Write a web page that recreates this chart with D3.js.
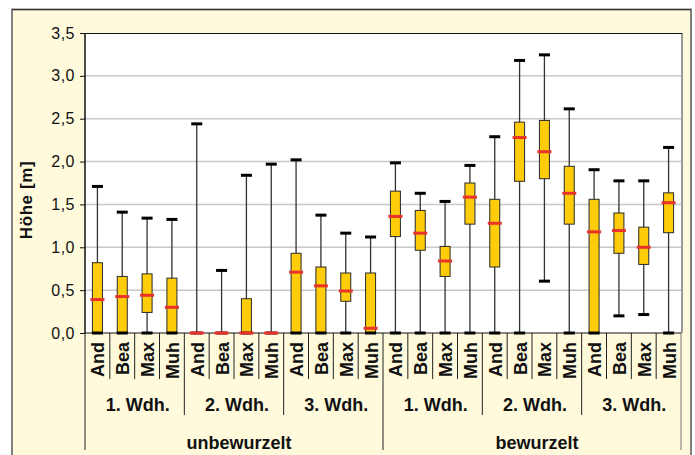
<!DOCTYPE html>
<html>
<head>
<meta charset="utf-8">
<script src="https://cdn.jsdelivr.net/npm/d3@7"></script>
<style>
body { margin:0; background:#fff; }
svg { display:block; font-family:Arial, "Liberation Sans", sans-serif; }
</style>
</head>
<body>
<svg id="chart"></svg>
<script>
// categories
var groups = ["unbewurzelt", "bewurzelt"]
var reps = ["1. Wdh.", "2. Wdh.", "3. Wdh."]
var varieties = ["And", "Bea", "Max", "Muh"]

// box plot values, one per variety / rep / group (in that nesting)
var maxima  = [1.71, 1.41, 1.34, 1.325,  2.44, 0.73, 1.84, 1.97,  2.02, 1.375, 1.165, 1.12,
               1.985, 1.63, 1.535, 1.955,  2.29, 3.18, 3.245, 2.615,  1.905, 1.775, 1.775, 2.165]
var q3      = [0.82, 0.66, 0.69, 0.64,  0, 0, 0.40, 0,  0.93, 0.77, 0.70, 0.70,
               1.655, 1.43, 1.01, 1.75,  1.56, 2.46, 2.48, 1.945,  1.56, 1.40, 1.235, 1.635]
var medians = [0.39, 0.425, 0.44, 0.30,  0, 0, 0, 0,  0.71, 0.55, 0.49, 0.055,
               1.36, 1.165, 0.84, 1.585,  1.28, 2.28, 2.115, 1.63,  1.18, 1.195, 1.00, 1.52]
var q1      = [0, 0, 0.24, 0,  0, 0, 0, 0,  0, 0, 0.37, 0,
               1.125, 0.965, 0.66, 1.27,  0.77, 1.77, 1.80, 1.27,  0, 0.93, 0.80, 1.17]
var minima  = [0, 0, 0, 0,  0, 0, 0, 0,  0, 0, 0, 0,
               0, 0, 0, 0,  0, 0, 0.605, 0,  0, 0.20, 0.215, 0]

var yTicks = [0, 0.5, 1, 1.5, 2, 2.5, 3, 3.5]

var screen = {width:695, height:455}
var plot = {left:85, right:681, top:33, bottom:333}

var svg = d3.select("#chart")
    .attr("width", screen.width)
    .attr("height", screen.height)

// chart area
svg.append("rect")
    .attr("x", 12).attr("y", 9.5)
    .attr("width", 679).attr("height", 470)
    .attr("fill", "#fffadc")
    .attr("stroke", "#808080")
    .attr("stroke-width", 2)
svg.append("line")
    .attr("x1", 12).attr("x2", 691).attr("y1", 9.5).attr("y2", 9.5)
    .attr("stroke", "#333").attr("stroke-width", 1)

// plot area
svg.append("rect")
    .attr("x", plot.left).attr("y", plot.top)
    .attr("width", plot.right - plot.left).attr("height", plot.bottom - plot.top)
    .attr("fill", "#fff")
svg.append("line")
    .attr("x1", plot.right + 1).attr("x2", plot.right + 1)
    .attr("y1", plot.top).attr("y2", plot.bottom)
    .attr("stroke", "#999").attr("stroke-width", 2)

var cats = d3.range(groups.length * reps.length * varieties.length)

var xScale = d3.scaleBand()
    .domain(cats)
    .range([plot.left, plot.right])

var yScale = d3.scaleLinear()
    .domain([0, 3.5])
    .range([plot.bottom, plot.top])

// gridlines
svg.append("g")
    .selectAll("line")
    .data(yTicks.slice(1, -1))
    .enter()
    .append("line")
    .attr("x1", plot.left).attr("x2", plot.right)
    .attr("y1", function(d) { return yScale(d) })
    .attr("y2", function(d) { return yScale(d) })
    .attr("stroke", "#c8c8c8")
    .attr("stroke-width", 1.5)

svg.append("line")
    .attr("x1", plot.left).attr("x2", plot.right + 1)
    .attr("y1", plot.top + 0.5).attr("y2", plot.top + 0.5)
    .attr("stroke", "#111")

// y axis
var yAxis = d3.axisLeft(yScale)
    .tickValues(yTicks)
    .tickSize(5)
    .tickPadding(5)
    .tickFormat(function(d) { return d.toFixed(1).replace(".", ",") })

var yg = svg.append("g")
    .attr("transform", "translate(" + plot.left + ",0)")
    .call(yAxis)
yg.select(".domain").remove()
yg.selectAll("line").attr("stroke", "#111")
yg.selectAll("text")
    .attr("fill", "#111")
    .style("font-size", "16px")
    .style("font-family", "Arial, 'Liberation Sans', sans-serif")
    .style("letter-spacing", "0.5px")

svg.append("text")
    .attr("transform", "translate(32,200) rotate(-90)")
    .attr("text-anchor", "middle")
    .attr("font-size", 17)
    .attr("font-weight", "bold")
    .attr("letter-spacing", 0.6)
    .attr("fill", "#111")
    .text("Höhe [m]")

// separators below the axis
var bw = xScale.step()
svg.append("g")
    .selectAll("line")
    .data(d3.range(cats.length + 1))
    .enter()
    .append("line")
    .attr("x1", function(i) { return plot.left + i * bw })
    .attr("x2", function(i) { return plot.left + i * bw })
    .attr("y1", plot.bottom)
    .attr("y2", function(i) {
        if (i % 12 == 0) return 450
        if (i % 4 == 0) return 415
        return 379
    })
    .attr("stroke", function(i) { return i == cats.length ? "#777" : "#222" })
    .attr("stroke-width", 1)

// left axis line and bottom axis line
svg.append("line")
    .attr("x1", plot.left).attr("x2", plot.left)
    .attr("y1", plot.top).attr("y2", plot.bottom)
    .attr("stroke", "#111").attr("stroke-width", 1.5)
svg.append("line")
    .attr("x1", plot.left).attr("x2", plot.right)
    .attr("y1", plot.bottom).attr("y2", plot.bottom)
    .attr("stroke", "#111").attr("stroke-width", 1)

// category labels
svg.append("g")
    .selectAll("text")
    .data(cats)
    .enter()
    .append("text")
    .attr("transform", function(i) {
        return "translate(" + (xScale(i) + bw / 2 + 0.5) + ",342) rotate(-90)"
    })
    .attr("dy", "0.36em")
    .attr("text-anchor", "end")
    .attr("font-size", 18)
    .attr("font-weight", "bold")
    .attr("fill", "#111")
    .text(function(i) { return varieties[i % 4] })

svg.append("g")
    .selectAll("text")
    .data(d3.range(groups.length * reps.length))
    .enter()
    .append("text")
    .attr("x", function(j) { return plot.left + (j * 4 + 2) * bw + 3 })
    .attr("y", 411)
    .attr("text-anchor", "middle")
    .attr("font-size", 18)
    .attr("font-weight", "bold")
    .attr("fill", "#111")
    .text(function(j) { return reps[j % 3] })

svg.append("g")
    .selectAll("text")
    .data(groups)
    .enter()
    .append("text")
    .attr("x", function(d, k) { return plot.left + (k * 12 + 6) * bw + 5 })
    .attr("y", 449)
    .attr("text-anchor", "middle")
    .attr("font-size", 18)
    .attr("font-weight", "bold")
    .attr("fill", "#111")
    .text(function(d) { return d })

// boxes
var cx = function(i) { return xScale(i) + bw / 2 }
var boxes = svg.append("g")

boxes.selectAll(".whisker")
    .data(cats)
    .enter()
    .append("line")
    .attr("class", "whisker")
    .attr("x1", cx).attr("x2", cx)
    .attr("y1", function(i) { return yScale(minima[i]) })
    .attr("y2", function(i) { return yScale(maxima[i]) })
    .attr("stroke", "#333")
    .attr("stroke-width", 1.3)

boxes.selectAll(".box")
    .data(cats.filter(function(i) { return q3[i] > q1[i] }))
    .enter()
    .append("rect")
    .attr("class", "box")
    .attr("x", function(i) { return cx(i) - 5 })
    .attr("width", 10)
    .attr("y", function(i) { return yScale(q3[i]) })
    .attr("height", function(i) { return yScale(q1[i]) - yScale(q3[i]) })
    .attr("fill", "#ffcc0a")
    .attr("stroke", "#2a2a2a")
    .attr("stroke-width", 1)

var caps = cats.map(function(i) { return {i:i, v:maxima[i]} })
    .concat(cats.map(function(i) { return {i:i, v:minima[i]} }))

boxes.selectAll(".cap")
    .data(caps)
    .enter()
    .append("rect")
    .attr("class", "cap")
    .attr("x", function(d) { return cx(d.i) - 5.5 })
    .attr("width", 11)
    .attr("y", function(d) { return yScale(d.v) - 1.5 })
    .attr("height", 3)
    .attr("fill", "#000")

boxes.selectAll(".median")
    .data(cats)
    .enter()
    .append("rect")
    .attr("class", "median")
    .attr("x", function(i) { return cx(i) - 7 })
    .attr("width", 14)
    .attr("y", function(i) { return yScale(medians[i]) - 1.5 })
    .attr("height", 3)
    .attr("fill", "#e8322a")
</script>
</body>
</html>
